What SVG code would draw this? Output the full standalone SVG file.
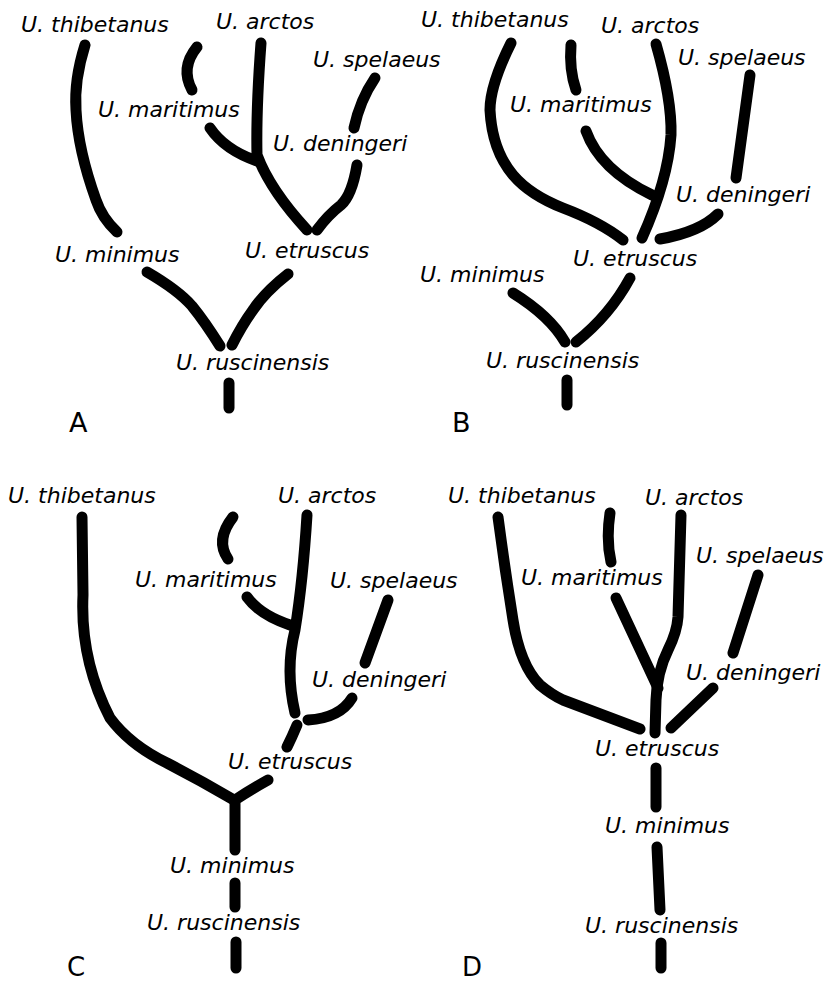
<svg xmlns="http://www.w3.org/2000/svg" width="826" height="982" viewBox="0 0 826 982">
  <style>
    .lbl { font-family: "DejaVu Sans", Verdana, sans-serif; font-style: italic; font-size: 22px; fill: #000; }
    .panel { font-family: "DejaVu Sans", Verdana, sans-serif; font-size: 27px; fill: #000; }
    .panel-low { font-size: 26px; }
    .br { fill: none; stroke: #000; stroke-width: 11; stroke-linecap: round; stroke-linejoin: round; }
  </style>
  <rect width="826" height="982" fill="#fff"/>

  <!-- Tree A -->
  <g id="treeA">
    <g id="A-labels">
      <text class="lbl" x="21" y="32">U. thibetanus</text>
      <text class="lbl" x="216" y="29">U. arctos</text>
      <text class="lbl" x="313" y="67">U. spelaeus</text>
      <text class="lbl" x="98" y="117">U. maritimus</text>
      <text class="lbl" x="273" y="151">U. deningeri</text>
      <text class="lbl" x="55" y="262">U. minimus</text>
      <text class="lbl" x="245" y="258">U. etruscus</text>
      <text class="lbl" x="176" y="370">U. ruscinensis</text>
      <text class="panel" x="69" y="432">A</text>
    </g>
    <g id="A-connectors">
      <path class="br" d="M85,45 Q74,80 76,110 Q78,150 96,200 Q102,218 117,232"/>
      <path class="br" d="M197,47 Q180,68 192,90"/>
      <path class="br" d="M261,43 Q256,110 257,155 Q270,190 307,230"/>
      <path class="br" d="M210,128 Q225,150 257,161"/>
      <path class="br" d="M375,78 Q360,100 354,128"/>
      <path class="br" d="M357,165 Q352,195 341,205 Q328,215 317,230"/>
      <path class="br" d="M147,272 Q178,290 192,306 Q205,322 220,346"/>
      <path class="br" d="M288,274 Q265,292 253,310 Q242,325 232,345"/>
      <path class="br" d="M229,383 L229,408"/>
    </g>
  </g>

  <!-- Tree B -->
  <g id="treeB">
    <g id="B-labels">
      <text class="lbl" x="421" y="27">U. thibetanus</text>
      <text class="lbl" x="601" y="33">U. arctos</text>
      <text class="lbl" x="678" y="65">U. spelaeus</text>
      <text class="lbl" x="510" y="112">U. maritimus</text>
      <text class="lbl" x="676" y="202">U. deningeri</text>
      <text class="lbl" x="573" y="266">U. etruscus</text>
      <text class="lbl" x="420" y="282">U. minimus</text>
      <text class="lbl" x="486" y="368">U. ruscinensis</text>
      <text class="panel" x="452" y="432">B</text>
    </g>
    <g id="B-connectors">
      <path class="br" d="M511,43 Q490,85 490,110 Q492,150 513,175 Q530,195 563,208 Q600,222 623,240"/>
      <path class="br" d="M571,45 Q569,70 576,90"/>
      <path class="br" d="M656,44 Q672,100 671,135 Q668,180 642,238"/>
      <path class="br" d="M586,131 Q600,170 652,195"/>
      <path class="br" d="M750,75 L736,178"/>
      <path class="br" d="M718,214 Q700,232 660,239"/>
      <path class="br" d="M513,293 Q550,316 565,342"/>
      <path class="br" d="M630,278 Q610,315 576,342"/>
      <path class="br" d="M567,380 L567,405"/>
    </g>
  </g>

  <!-- Tree C -->
  <g id="treeC">
    <g id="C-labels">
      <text class="lbl" x="8" y="503">U. thibetanus</text>
      <text class="lbl" x="278" y="503">U. arctos</text>
      <text class="lbl" x="135" y="587">U. maritimus</text>
      <text class="lbl" x="330" y="588">U. spelaeus</text>
      <text class="lbl" x="312" y="687">U. deningeri</text>
      <text class="lbl" x="228" y="769">U. etruscus</text>
      <text class="lbl" x="170" y="873">U. minimus</text>
      <text class="lbl" x="147" y="930">U. ruscinensis</text>
      <text class="panel panel-low" x="67" y="976">C</text>
    </g>
    <g id="C-connectors">
      <path class="br" d="M82,517 L83,595 Q80,660 110,718 Q130,745 167,763 Q200,780 234,800"/>
      <path class="br" d="M268,780 Q250,790 235,800 L235,850"/>
      <path class="br" d="M235,883 L235,907"/>
      <path class="br" d="M236,942 L236,968"/>
      <path class="br" d="M233,517 Q215,540 228,559"/>
      <path class="br" d="M307,515 Q303,580 295,630 Q285,670 295,713"/>
      <path class="br" d="M247,597 Q260,615 290,625"/>
      <path class="br" d="M388,600 L365,663"/>
      <path class="br" d="M352,698 Q340,718 308,720"/>
      <path class="br" d="M297,725 Q292,737 287,747"/>
    </g>
  </g>

  <!-- Tree D -->
  <g id="treeD">
    <g id="D-labels">
      <text class="lbl" x="448" y="503">U. thibetanus</text>
      <text class="lbl" x="645" y="505">U. arctos</text>
      <text class="lbl" x="696" y="563">U. spelaeus</text>
      <text class="lbl" x="521" y="585">U. maritimus</text>
      <text class="lbl" x="686" y="680">U. deningeri</text>
      <text class="lbl" x="595" y="756">U. etruscus</text>
      <text class="lbl" x="605" y="833">U. minimus</text>
      <text class="lbl" x="585" y="933">U. ruscinensis</text>
      <text class="panel panel-low" x="462" y="976">D</text>
    </g>
    <g id="D-connectors">
      <path class="br" d="M498,517 Q505,570 513,620 Q520,665 540,685 Q552,695 563,700 L640,729"/>
      <path class="br" d="M610,513 Q606,540 611,562"/>
      <path class="br" d="M681,515 L678,617 Q677,632 668,650 Q657,672 656,700 L655,733"/>
      <path class="br" d="M616,598 L658,688"/>
      <path class="br" d="M758,575 L733,653"/>
      <path class="br" d="M713,688 L671,728"/>
      <path class="br" d="M656,768 L656,807"/>
      <path class="br" d="M657,847 L660,910"/>
      <path class="br" d="M661,943 L661,968"/>
    </g>
  </g>
</svg>
